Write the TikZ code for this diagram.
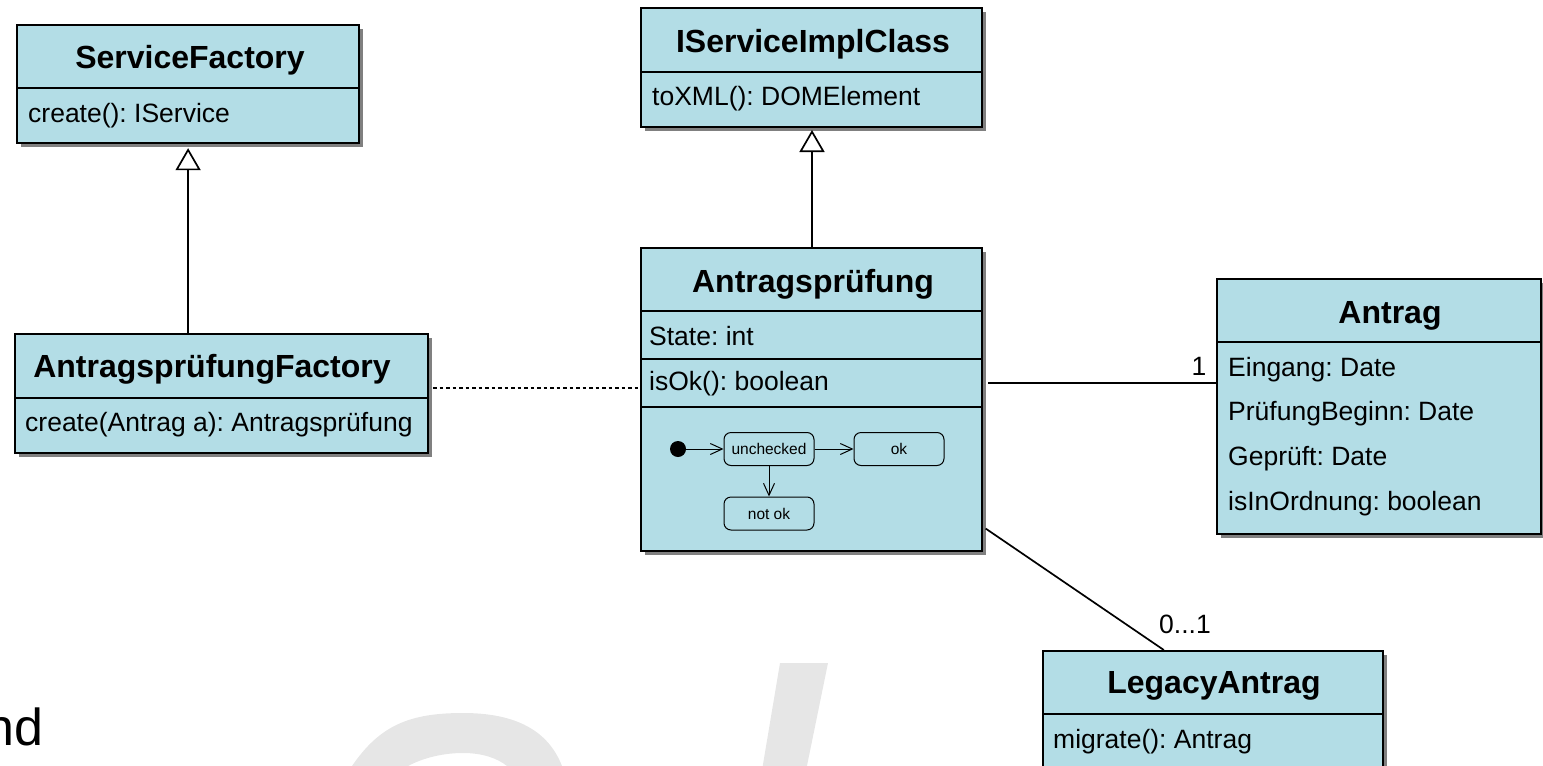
\documentclass[tikz,border=0pt]{standalone}
\usepackage{fontspec}
\setmainfont{Liberation Sans}
\usetikzlibrary{shadows,arrows.meta,calc}
\definecolor{clsblue}{RGB}{179,221,230}
\definecolor{wmgray}{RGB}{230,230,230}
\frenchspacing
\begin{document}
\begin{tikzpicture}[x=1pt,y=-1pt,
  cls/.style={draw=black, line width=2.2pt, fill=clsblue, inner sep=0pt, anchor=north west,
    drop shadow={shadow xshift=4pt, shadow yshift=-4pt, fill=black!50, opacity=1}},
  ttl/.style={font=\fontsize{32}{36}\selectfont\bfseries, inner sep=0pt, anchor=base},
  attr/.style={font=\fontsize{26.5}{30}\selectfont, inner sep=0pt, anchor=base west},
  sepline/.style={line width=1.6pt},
  st/.style={draw, rounded corners=7pt, line width=1pt, minimum width=90pt, minimum height=33pt,
    font=\fontsize{15.5}{18}\selectfont, inner sep=0pt},
  tr/.style={-{Straight Barb[length=12pt,width=11pt]}, line width=1pt},
  inh/.style={-{Triangle[open,length=22pt,width=25pt,fill=white]}, line width=1.7pt},
  assoc/.style={line width=1.7pt},
  dep/.style={line width=1.7pt, dash pattern=on 3.5pt off 3pt},
  mult/.style={font=\fontsize{26.5}{30}\selectfont, inner sep=0pt, anchor=base}
]
\useasboundingbox (0,0) rectangle (1543,766);
\clip (0,0) rectangle (1543,766);

% background watermark fragments
\fill[wmgray, even odd rule]
  (352,766) .. controls (380,725) and (410,713) .. (463,713)
            .. controls (515,713) and (548,730) .. (562,766) -- (565,800) -- (350,800) -- cycle
  (408,766) .. controls (425,757) and (445,753) .. (463,753)
            .. controls (482,753) and (497,758) .. (507,766) -- (510,800) -- (405,800) -- cycle;
\fill[wmgray] (780,663) -- (828,663) -- (800,800) -- (757,800) -- cycle;

\node[font=\fontsize{52}{60}\selectfont, inner sep=0pt, anchor=base east] (nd) at (44,745) {nd};

% classes
\node[cls, minimum width=342pt, minimum height=118pt] (sf) at (16,24) {};
\draw[sepline] (16,88) -- (358,88);
\node[ttl] (sft) at (190,68) {ServiceFactory};
\node[attr] (sfa) at (28,122) {create(): IService};

\node[cls, minimum width=413pt, minimum height=119pt] (af) at (14,333) {};
\draw[sepline] (14,398) -- (427,398);
\node[ttl] (aft) at (212,377) {AntragsprüfungFactory};
\node[attr] (afa) at (25,431) {create(Antrag a): Antragsprüfung};

\node[cls, minimum width=341pt, minimum height=119pt] (isc) at (640,7) {};
\draw[sepline] (640,72) -- (981,72);
\node[ttl] (isct) at (813,52) {IServiceImplClass};
\node[attr] (isca) at (652,105) {toXML(): DOMElement};

\node[cls, minimum width=341pt, minimum height=303pt] (apr) at (640,247) {};
\draw[sepline] (640,311) -- (981,311);
\draw[sepline] (640,359) -- (981,359);
\draw[sepline] (640,407) -- (981,407);
\node[ttl] (aprt) at (813,292) {Antragsprüfung};
\node[attr] (apra) at (649,345) {State: int};
\node[attr] (aprm) at (649,390) {isOk(): boolean};

\node[cls, minimum width=324pt, minimum height=255pt] (an) at (1216,278) {};
\draw[sepline] (1216,342) -- (1540,342);
\node[ttl] (ant) at (1390,323) {Antrag};
\node[attr] (an1) at (1228,376) {Eingang: Date};
\node[attr] (an2) at (1228,420) {PrüfungBeginn: Date};
\node[attr] (an3) at (1228,465) {Geprüft: Date};
\node[attr] (an4) at (1228,510) {isInOrdnung: boolean};

\node[cls, minimum width=340pt, minimum height=160pt] (la) at (1042,650) {};
\draw[sepline] (1042,714) -- (1382,714);
\node[ttl] (lat) at (1214,693) {LegacyAntrag};
\node[attr] (laa) at (1053,748) {migrate(): Antrag};

% state machine inside Antragsprüfung
\fill (678,449) circle (8pt) coordinate (init);
\node[st] (unc) at (769,449) {unchecked};
\node[st] (okst) at (899,449) {ok};
\node[st] (nok) at (769,513.5) {not ok};
\draw[tr] (init) -- (unc.west);
\draw[tr] (unc.east) -- (okst.west);
\draw[tr] (unc.south) -- (nok.north);

% connectors
\draw[inh, shorten >=4pt] (sf.south |- af.north) -- (sf.south);
\draw[inh, shorten >=4pt] (812,247) -- (812,126);
\draw[dep] ([xshift=4pt]af.east |- 0,388) -- (apr.west |- 0,388);
\draw[assoc, shorten <=5pt] (aprm -| apr.east) -- (aprm -| an.west);
\draw[assoc, shorten <=3pt] ($(apr.north east)!0.917!(apr.south east)$) -- ($(la.north west)!0.356!(la.north east)$);

\node[mult] (m1) at (1199,375) {1};
\node[mult] (m2) at (1185,633) {0...1};
\end{tikzpicture}
\end{document}
